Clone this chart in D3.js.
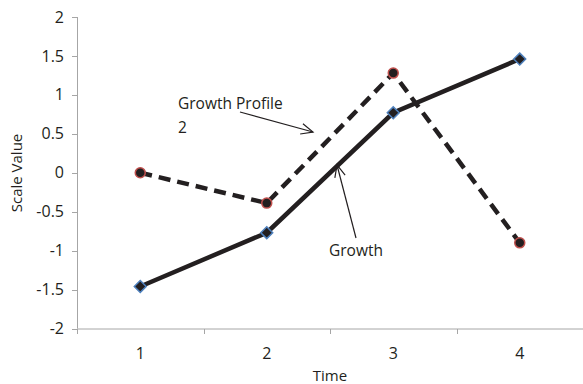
<!DOCTYPE html>
<html>
<head>
<meta charset="utf-8">
<script src="https://cdn.jsdelivr.net/npm/d3@7"></script>
<style>
  html, body { margin: 0; padding: 0; background: #fff; }
  svg { display: block; font-family: "Open Sans", "Liberation Sans", sans-serif; }
</style>
</head>
<body>
<svg id="chart" width="583" height="384"></svg>
<script>
// Data
const times = [1, 2, 3, 4];
const growth = [-1.46, -0.77, 0.77, 1.46];
const growthProfile2 = [0, -0.39, 1.28, -0.9];
const yTicks = [2, 1.5, 1, 0.5, 0, -0.5, -1, -1.5, -2];

const svg = d3.select("#chart");
const axisColor = "#a6a6a6";
const ink = "#231f20";

const x = d3.scaleBand().domain(times).range([77, 583]).padding(0);
const y = d3.scaleLinear().domain([-2, 2]).range([328.5, 17]);
const cx = d => x(d) + x.bandwidth() / 2;

// Y axis
const yAxis = svg.append("g");
yAxis.append("line")
  .attr("x1", 77.5).attr("x2", 77.5)
  .attr("y1", y(2)).attr("y2", y(-2))
  .attr("stroke", axisColor).attr("stroke-width", 1);
yAxis.selectAll(".yt").data(yTicks).enter().append("line")
  .attr("x1", 72).attr("x2", 77.5)
  .attr("y1", d => Math.round(y(d)) + 0.5).attr("y2", d => Math.round(y(d)) + 0.5)
  .attr("stroke", axisColor);
yAxis.selectAll(".yl").data(yTicks).enter().append("text")
  .attr("x", 64).attr("y", d => y(d))
  .attr("dy", "0.35em").attr("text-anchor", "end")
  .attr("font-size", 16).attr("fill", ink)
  .text(d => d);

// X axis
const xAxis = svg.append("g");
xAxis.append("line")
  .attr("x1", 77).attr("x2", 583)
  .attr("y1", 329).attr("y2", 329)
  .attr("stroke", axisColor);
const bounds = times.map(t => x(t)).concat([x(4) + x.bandwidth()]);
xAxis.selectAll(".xt").data(bounds).enter().append("line")
  .attr("x1", d => Math.round(d) + 0.5).attr("x2", d => Math.round(d) + 0.5)
  .attr("y1", 329).attr("y2", 334)
  .attr("stroke", axisColor);
xAxis.selectAll(".xl").data(times).enter().append("text")
  .attr("x", cx).attr("y", 359)
  .attr("text-anchor", "middle")
  .attr("font-size", 16).attr("fill", ink)
  .text(d => d);

// Axis titles
svg.append("text")
  .attr("transform", "translate(22,173) rotate(-90)")
  .attr("text-anchor", "middle")
  .attr("font-size", 15).attr("fill", ink)
  .text("Scale Value");
svg.append("text")
  .attr("x", 330).attr("y", 381)
  .attr("text-anchor", "middle")
  .attr("font-size", 15).attr("fill", ink)
  .text("Time");

// Series lines
const line = d3.line().x((d, i) => cx(times[i])).y(d => y(d));
svg.append("path").datum(growthProfile2)
  .attr("d", line).attr("fill", "none")
  .attr("stroke", ink).attr("stroke-width", 4.5)
  .attr("stroke-dasharray", "12,7");
svg.append("path").datum(growth)
  .attr("d", line).attr("fill", "none")
  .attr("stroke", ink).attr("stroke-width", 4.5);

// Markers
svg.selectAll(".circ").data(growthProfile2).enter().append("circle")
  .attr("cx", (d, i) => cx(times[i])).attr("cy", d => y(d))
  .attr("r", 5).attr("fill", ink)
  .attr("stroke", "#c0504d").attr("stroke-width", 1.5);
const diamond = d3.symbol().type(d3.symbolDiamond2).size(90);
svg.selectAll(".diam").data(growth).enter().append("path")
  .attr("d", diamond)
  .attr("transform", (d, i) => `translate(${cx(times[i])},${y(d)})`)
  .attr("fill", ink)
  .attr("stroke", "#4f81bd").attr("stroke-width", 1.5);

// Annotations
function arrow(x1, y1, x2, y2) {
  svg.append("line")
    .attr("x1", x1).attr("y1", y1).attr("x2", x2).attr("y2", y2)
    .attr("stroke", ink).attr("stroke-width", 1.2);
  const a = Math.atan2(y2 - y1, x2 - x1);
  const len = 13, spread = 0.42;
  const p1 = [x2 - len * Math.cos(a - spread), y2 - len * Math.sin(a - spread)];
  const p2 = [x2 - len * Math.cos(a + spread), y2 - len * Math.sin(a + spread)];
  svg.append("path")
    .attr("d", `M${p1[0]},${p1[1]}L${x2},${y2}L${p2[0]},${p2[1]}`)
    .attr("fill", "none").attr("stroke", ink).attr("stroke-width", 1.2);
}
svg.append("text").attr("x", 178).attr("y", 109)
  .attr("font-size", 15.5).attr("fill", ink).text("Growth Profile");
svg.append("text").attr("x", 178).attr("y", 133)
  .attr("font-size", 15.5).attr("fill", ink).text("2");
arrow(240, 112, 313, 132);

svg.append("text").attr("x", 329).attr("y", 256)
  .attr("font-size", 15.5).attr("fill", ink).text("Growth");
arrow(356, 238, 337, 165);
</script>
</body>
</html>
